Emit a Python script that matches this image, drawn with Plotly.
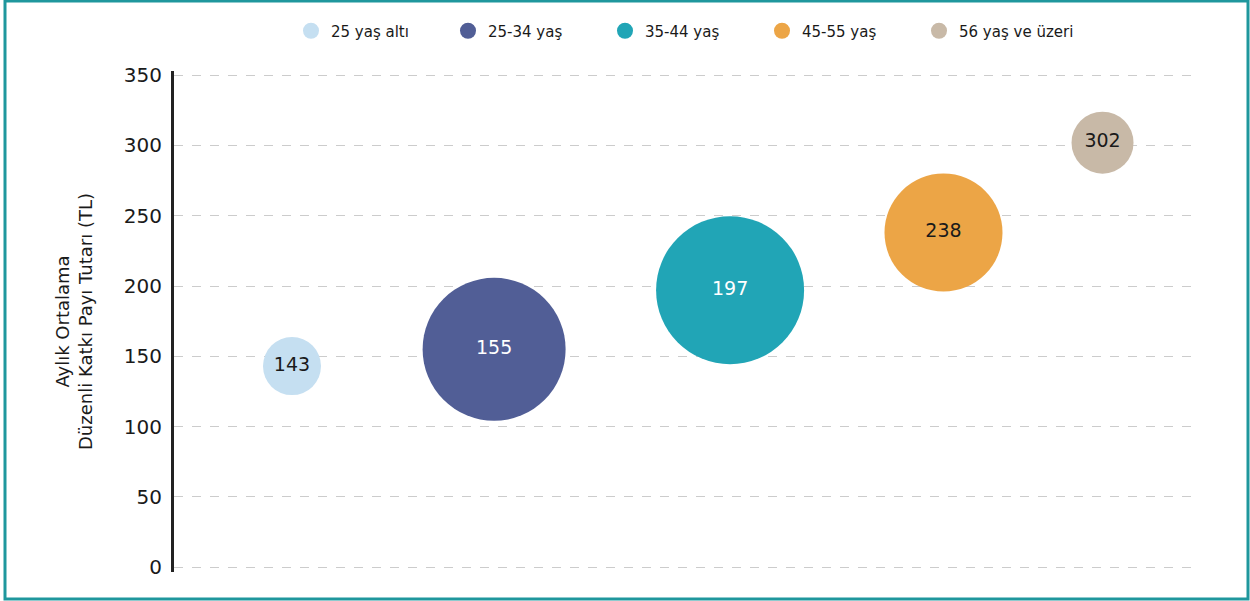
import plotly.graph_objects as go

categories = ["25 yaş altı", "25-34 yaş", "35-44 yaş", "45-55 yaş", "56 yaş ve üzeri"]
x_pos = [1.15, 3.12, 5.42, 7.50, 9.05]
values = [143, 155, 197, 238, 302]
bubble_sizes = [58, 143, 148, 118, 62]
colors = ["#c5dff1", "#515e96", "#21a5b6", "#eca546", "#c8b9a7"]
text_colors = ["#1a1a1a", "#ffffff", "#ffffff", "#1a1a1a", "#1a1a1a"]
y_ticks = [0, 50, 100, 150, 200, 250, 300, 350]

W, H = 1250, 601
L, R, T, B = 174, 50, 71, 29
FONT = "DejaVu Sans"

fig = go.Figure()
for i, c in enumerate(categories):
    fig.add_trace(go.Scatter(
        x=[x_pos[i]], y=[values[i]], mode="markers+text", name=c,
        text=[str(values[i])], textposition="middle center",
        textfont=dict(size=19, color=text_colors[i], family=FONT),
        marker=dict(size=bubble_sizes[i], color=colors[i], line=dict(width=0), opacity=1),
        hoverinfo="skip",
    ))

pw = W - L - R
ph = H - T - B
def px_x(p):
    return (p - L) / pw
def px_y(p):
    return (H - B - p) / ph

fig.add_shape(type="rect", xref="paper", yref="paper",
              x0=px_x(5), x1=px_x(1248), y0=px_y(599), y1=px_y(1),
              line=dict(color="#1f979d", width=3), fillcolor="rgba(0,0,0,0)", layer="above")

fig.update_layout(
    width=W, height=H,
    margin=dict(l=L, r=R, t=T, b=B, autoexpand=False),
    paper_bgcolor="white", plot_bgcolor="white",
    font=dict(family=FONT, color="#1a1a1a"),
    showlegend=True,
    legend=dict(orientation="h", xref="container", x=291 / W, xanchor="left",
                yref="container", y=1 - 31 / H, yanchor="middle",
                font=dict(size=15, family=FONT), itemsizing="trace",
                itemwidth=30, entrywidth=112, entrywidthmode="pixels"),
    xaxis=dict(range=[0, 10], visible=False, showgrid=False, zeroline=False),
    yaxis=dict(range=[-3.5, 353], tickvals=y_ticks, ticktext=[str(v) for v in y_ticks],
               showgrid=True, gridcolor="#cccccc", griddash="dash", gridwidth=1,
               zeroline=False, showline=True, linecolor="#222222", linewidth=3,
               ticks="", ticklen=0, ticklabelstandoff=5, automargin=False,
               tickfont=dict(size=20, color="#1a1a1a", family=FONT),
               title=dict(text="Aylık Ortalama<br>Düzenli Katkı Payı Tutarı (TL)",
                          font=dict(size=18, color="#1a1a1a", family=FONT), standoff=27)),
)

fig.write_html("out.html", config={"displayModeBar": False},
               post_script="document.body.style.margin='0';document.body.style.overflow='hidden';")
